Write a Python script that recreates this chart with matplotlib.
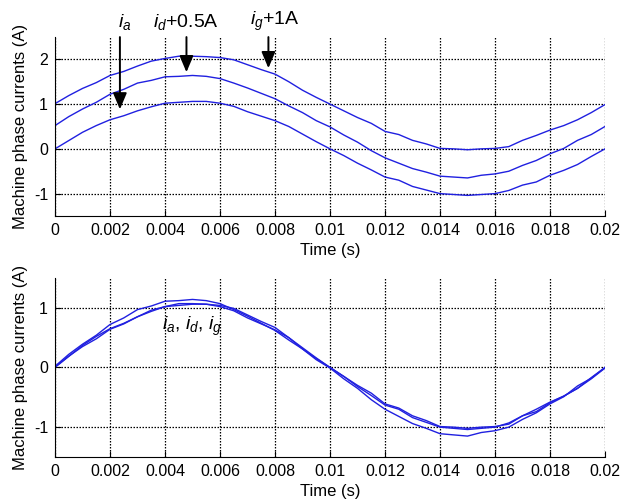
import matplotlib
matplotlib.use("Agg")
import matplotlib.pyplot as plt
import numpy as np

# sample times (s), one reading every 0.5 ms
time_ms = [0.0, 0.5, 1.0, 1.5, 2.0, 2.5, 3.0, 3.5, 4.0, 4.5,
           5.0, 5.5, 6.0, 6.5, 7.0, 7.5, 8.0, 8.5, 9.0, 9.5,
           10.0, 10.5, 11.0, 11.5, 12.0, 12.5, 13.0, 13.5, 14.0, 14.5,
           15.0, 15.5, 16.0, 16.5, 17.0, 17.5, 18.0, 18.5, 19.0, 19.5, 20.0]

# phase currents (A)
i_a = [0.0, 0.185, 0.37, 0.52, 0.65, 0.74, 0.85, 0.94, 1.02, 1.04,
       1.06, 1.06, 1.02, 0.95, 0.83, 0.73, 0.63, 0.50, 0.33, 0.16,
       0.0, -0.15, -0.32, -0.47, -0.63, -0.70, -0.84, -0.92, -1.0, -1.02,
       -1.04, -1.02, -1.0, -0.93, -0.81, -0.74, -0.59, -0.48, -0.35, -0.17, 0.0]
i_d = [0.02, 0.22, 0.39, 0.54, 0.72, 0.83, 0.97, 1.03, 1.11, 1.12,
       1.14, 1.12, 1.07, 0.97, 0.86, 0.74, 0.62, 0.46, 0.31, 0.13,
       -0.01, -0.19, -0.35, -0.54, -0.70, -0.82, -0.94, -1.02, -1.11, -1.13,
       -1.15, -1.09, -1.06, -1.0, -0.87, -0.76, -0.61, -0.49, -0.31, -0.18, 0.0]
i_g = [0.01, 0.19, 0.35, 0.48, 0.64, 0.73, 0.85, 0.96, 1.02, 1.07,
       1.07, 1.06, 1.04, 0.99, 0.88, 0.77, 0.67, 0.50, 0.31, 0.15,
       0.0, -0.15, -0.30, -0.43, -0.61, -0.68, -0.81, -0.89, -0.99, -1.0,
       -1.02, -1.0, -0.99, -0.95, -0.81, -0.70, -0.58, -0.48, -0.35, -0.19, -0.01]

xticks = [0, 0.002, 0.004, 0.006, 0.008, 0.01, 0.012, 0.014, 0.016, 0.018, 0.02]
xtick_labels = ["0", "0.002", "0.004", "0.006", "0.008", "0.01",
                "0.012", "0.014", "0.016", "0.018", "0.02"]

LINE = "#2020e0"


def style_axes(ax, yticks):
    ax.set_xlim(0, 0.02)
    ax.set_xticks(xticks)
    ax.set_xticklabels(xtick_labels)
    ax.set_yticks(yticks)
    ax.set_yticklabels([str(v) for v in yticks])
    ax.spines["top"].set_visible(False)
    ax.spines["right"].set_visible(False)
    ax.tick_params(direction="in", length=4, labelsize=11.5, pad=5)
    ax.grid(True, color="black", linestyle=(0, (1.2, 1.2)), linewidth=0.9)
    ax.set_xlabel("Time (s)", fontsize=12, labelpad=4)
    ax.set_ylabel("Machine phase currents (A)", fontsize=12, labelpad=4)


def main():
    plt.rcParams["font.family"] = ["Liberation Sans", "DejaVu Sans"]
    plt.rcParams["mathtext.fontset"] = "custom"
    plt.rcParams["mathtext.rm"] = "Liberation Sans"
    plt.rcParams["mathtext.it"] = "Liberation Sans:italic"
    plt.rcParams["axes.unicode_minus"] = False

    t = np.array(time_ms) / 1000.0
    ia = np.array(i_a)
    idd = np.array(i_d)
    ig = np.array(i_g)

    fig = plt.figure(figsize=(6.33, 5.03), dpi=100)
    ax1 = fig.add_axes([0.0869, 0.5706, 0.8689, 0.3559])
    ax2 = fig.add_axes([0.0869, 0.0915, 0.8689, 0.3559])

    # top: offset traces
    ax1.plot(t, ia, color=LINE, lw=1)
    ax1.plot(t, idd + 0.5, color=LINE, lw=1)
    ax1.plot(t, ig + 1.0, color=LINE, lw=1)
    ax1.set_ylim(-1.5, 2.5)
    style_axes(ax1, [-1, 0, 1, 2])

    arrow = dict(arrowstyle="-|>,head_length=0.9,head_width=0.38",
                 color="black", lw=1.4, mutation_scale=11)
    labels = [(r"$i_a$", 0.00236, 0.82), (r"$i_d$+0.5A", 0.00478, 1.65),
              (r"$i_g$+1A", 0.00776, 1.74)]
    text_x = [0.00255, 0.00475, 0.0080]
    for (txt, x, tip), tx in zip(labels, text_x):
        ax1.annotate("", xy=(x, tip), xytext=(x, 2.56), arrowprops=arrow,
                     annotation_clip=False)
        ax1.text(tx, 2.84, txt, fontsize=14, ha="center", va="center",
                 clip_on=False)

    # bottom: overlaid traces
    ax2.plot(t, ia, color=LINE, lw=1)
    ax2.plot(t, idd, color=LINE, lw=1)
    ax2.plot(t, ig, color=LINE, lw=1)
    ax2.set_ylim(-1.5, 1.5)
    style_axes(ax2, [-1, 0, 1])
    ax2.text(0.0039, 0.68, r"$i_a$, $i_d$, $i_g$", fontsize=14,
             ha="left", va="center")

    fig.savefig("out.png", dpi=100)


if __name__ == "__main__":
    main()
